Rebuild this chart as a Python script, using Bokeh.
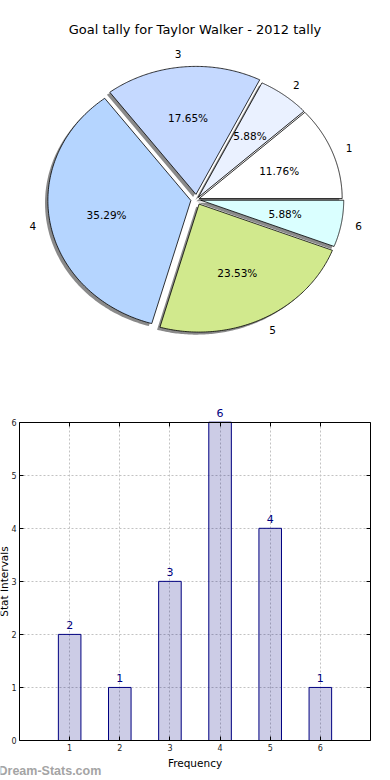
import numpy as np
from bokeh.plotting import figure
from bokeh.layouts import column
from bokeh.models import ColumnDataSource, Label, LabelSet, Range1d, LinearAxis, FixedTicker
from bokeh.core.properties import value
from bokeh.embed import file_html
from bokeh.resources import INLINE

# ---------------- data ----------------
title_text = "Goal tally for Taylor Walker - 2012 tally"
categories = ["1", "2", "3", "4", "5", "6"]
freq_x = [1, 2, 3, 4, 5, 6]
tallies = [2, 1, 3, 6, 4, 1]
explode = [0.02, 0.02, 0.04, 0.04, 0.04, 0.03]
colors = ["#ffffff", "#eaf1ff", "#c5d9ff", "#b5d5ff", "#d1e98d", "#daffff"]
y_ticks = [0, 1, 2, 3, 4, 5, 6]
x_label = "Frequency"
y_label = "Stat Intervals"
watermark = "Dream-Stats.com"

FONT = "DejaVu Sans"
W = 390

# ---------------- pie ----------------
H1 = 390
RX, RY = 143.0, 128.0      # pixels per unit radius (elliptical pie)
CX, CY = 196.0, 199.0      # pie centre in figure pixels (from top-left)

vals = np.array(tallies, dtype=float)
frac = vals / vals.sum()
cum = np.cumsum(frac)
a0 = 2 * np.pi * (cum - frac)
a1 = 2 * np.pi * cum
mid = (a0 + a1) / 2
ex = np.array(explode)
ox = ex * np.cos(mid)
oy = ex * np.sin(mid)

wx, wy, sx, sy = [], [], [], []
for i in range(len(vals)):
    t = np.linspace(a0[i], a1[i], 120)
    xs = np.concatenate([[ox[i]], ox[i] + np.cos(t), [ox[i]]])
    ys = np.concatenate([[oy[i]], oy[i] + np.sin(t), [oy[i]]])
    wx.append(list(xs)); wy.append(list(ys))
    sx.append(list(xs - 0.02)); sy.append(list(ys - 0.02))

pie_src = ColumnDataSource(dict(xs=wx, ys=wy, color=colors))
shadow_src = ColumnDataSource(dict(xs=sx, ys=sy))

lab_x = ox + 1.1 * np.cos(mid)
lab_y = oy + 1.1 * np.sin(mid)
lab_align = ["left" if v > 0 else "right" for v in lab_x]
pct_x = ox + 0.6 * np.cos(mid)
pct_y = oy + 0.6 * np.sin(mid)
pct_txt = ["%.2f%%" % (f * 100) for f in frac]

lab_src = ColumnDataSource(dict(x=lab_x, y=lab_y, text=categories, align=lab_align))
pct_src = ColumnDataSource(dict(x=pct_x, y=pct_y, text=pct_txt))

p1 = figure(width=W, height=H1,
            x_range=Range1d(-CX / RX, (W - CX) / RX),
            y_range=Range1d(-(H1 - CY) / RY, CY / RY),
            output_backend="svg", toolbar_location=None, min_border=0,
            x_axis_type=None, y_axis_type=None, outline_line_color=None)
p1.patches("xs", "ys", source=shadow_src, fill_color="#8a8a8a", line_color=None)
p1.patches("xs", "ys", source=pie_src, fill_color="color", line_color="black", line_width=0.8)
p1.text("x", "y", text="text", source=lab_src, text_align="align", text_baseline="middle",
        text_font=value(FONT), text_font_size="10.5px", text_color="black")
p1.text("x", "y", text="text", source=pct_src, text_align="center", text_baseline="middle",
        text_font=value(FONT), text_font_size="10.5px", text_color="black")
p1.add_layout(Label(x=194.5, y=H1 - 29, x_units="screen", y_units="screen", text=title_text,
                    text_align="center", text_baseline="middle", text_font=FONT,
                    text_font_size="13px", text_color="black"))

# ---------------- bar chart ----------------
H2 = 390
BX0, BX1 = 19.0, 370.0        # plot box, pixels from left
BY0, BY1 = 31.7, 350.0        # plot box, pixels from top of this figure
X_MIN, X_MAX = 0, 7
Y_MIN, Y_MAX = 0, 6
sxp = (BX1 - BX0) / (X_MAX - X_MIN)
syp = (BY1 - BY0) / (Y_MAX - Y_MIN)

p2 = figure(width=W, height=H2,
            x_range=Range1d(X_MIN - BX0 / sxp, X_MAX + (W - BX1) / sxp),
            y_range=Range1d(Y_MIN - (H2 - BY1) / syp, Y_MAX + BY0 / syp),
            output_backend="svg", toolbar_location=None, min_border=0,
            outline_line_color=None)

bar_src = ColumnDataSource(dict(x=freq_x, top=tallies, text=[str(v) for v in tallies]))
p2.vbar(x="x", top="top", width=0.45, source=bar_src, fill_color="navy", fill_alpha=0.2,
        line_color="navy", line_width=1)

xa = p2.xaxis[0]
ya = p2.yaxis[0]
xa.fixed_location = Y_MIN
xa.bounds = (X_MIN, X_MAX)
ya.fixed_location = X_MIN
ya.bounds = (Y_MIN, Y_MAX)
xa.ticker = FixedTicker(ticks=freq_x)
ya.ticker = FixedTicker(ticks=y_ticks)
for ax in (xa, ya):
    ax.major_tick_in = 4
    ax.major_tick_out = 0
    ax.minor_tick_line_color = None
    ax.axis_line_color = "black"
    ax.major_tick_line_color = "black"
    ax.major_label_text_font = FONT
    ax.major_label_text_font_size = "8px"
    ax.major_label_text_color = "#222222"
    ax.major_label_standoff = 3
    ax.axis_label_text_font = FONT
    ax.axis_label_text_font_size = "10.5px"
    ax.axis_label_text_font_style = "normal"
    ax.axis_label_text_color = "black"
xa.axis_label = x_label
xa.axis_label_standoff = 3
ya.axis_label = y_label
ya.axis_label_text_font_size = "10.5px"
ya.axis_label_standoff = -2

top_ax = LinearAxis(fixed_location=Y_MAX, bounds=(X_MIN, X_MAX),
                    ticker=FixedTicker(ticks=freq_x),
                    major_label_overrides={t: "" for t in freq_x})
right_ax = LinearAxis(fixed_location=X_MAX, bounds=(Y_MIN, Y_MAX),
                      ticker=FixedTicker(ticks=y_ticks),
                      major_label_overrides={t: "" for t in y_ticks})
for ax in (top_ax, right_ax):
    ax.major_tick_in = 4
    ax.major_tick_out = 0
    ax.minor_tick_line_color = None
    ax.axis_line_color = "black"
    ax.major_label_standoff = 0
p2.add_layout(top_ax, "above")
p2.add_layout(right_ax, "right")

p2.xgrid.ticker = FixedTicker(ticks=freq_x)
p2.ygrid.ticker = FixedTicker(ticks=y_ticks)
p2.xgrid.cross_bounds = (Y_MIN, Y_MAX)
p2.ygrid.cross_bounds = (X_MIN, X_MAX)
for g in (p2.xgrid[0], p2.ygrid[0]):
    g.grid_line_color = "#c2c2c2"
    g.grid_line_dash = "2 2"
    g.grid_line_width = 1

p2.add_layout(LabelSet(x="x", y="top", text="text", source=bar_src, text_align="center",
                       text_baseline="bottom", y_offset=5, text_color="navy",
                       text_font=value(FONT), text_font_size="11px"))

p2.add_layout(Label(x=-2, y=10, x_units="screen", y_units="screen", text=watermark,
                    text_align="left", text_baseline="middle",
                    text_font="Liberation Sans", text_font_size="12.5px",
                    text_font_style="bold", text_color="#a4a4a4"))

layout = column(p1, p2, spacing=0)
open("out.html", "w").write(file_html(layout, INLINE))
